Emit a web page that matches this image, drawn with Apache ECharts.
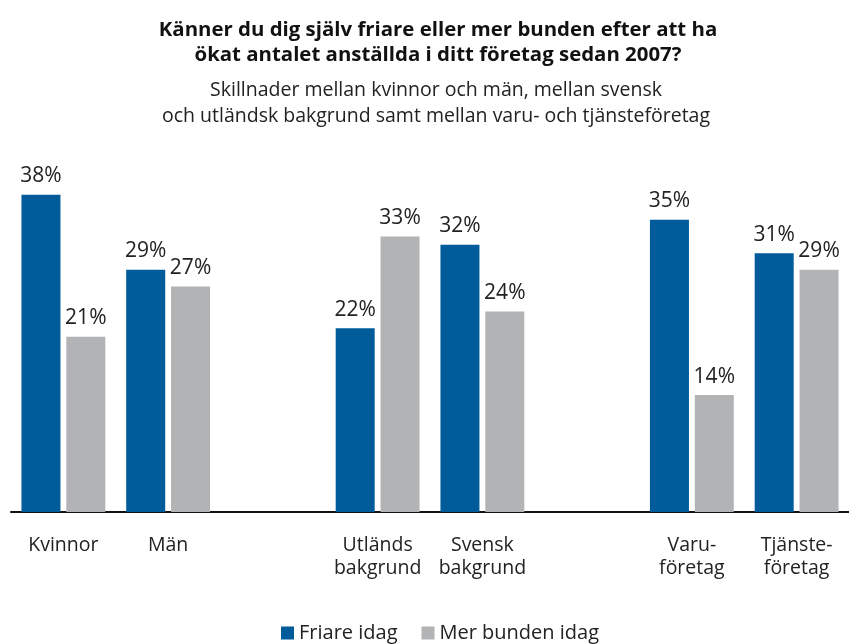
<!DOCTYPE html>
<html>
<head>
<meta charset="utf-8">
<script src="https://cdn.jsdelivr.net/npm/echarts@6/dist/echarts.min.js"></script>
<style>html,body{margin:0;padding:0;background:#fff;}#c{width:849px;height:644px;}</style>
</head>
<body>
<div id="c"></div>
<script>
const categories = ['Kvinnor', 'Män', '', 'Utländs\nbakgrund', 'Svensk\nbakgrund', '', 'Varu-\nföretag', 'Tjänste-\nföretag'];
const friare = [38, 29, null, 22, 32, null, 35, 31];
const bunden = [21, 27, null, 33, 24, null, 14, 29];
const seriesNames = ['Friare idag', 'Mer bunden idag'];
const titleLines = ['Känner du dig själv friare eller mer bunden efter att ha', 'ökat antalet anställda i ditt företag sedan 2007?'];
const subtitleLines = ['Skillnader mellan kvinnor och män, mellan svensk', 'och utländsk bakgrund samt mellan varu- och tjänsteföretag'];

const FONT = 'Open Sans';
const chart = echarts.init(document.getElementById('c'), null, {renderer: 'canvas'});
const labelCfg = {
  show: true, position: 'top', distance: 8,
  formatter: p => p.value + '%',
  fontFamily: FONT, fontSize: 21, color: '#222'
};
chart.setOption({
  animation: false,
  textStyle: {fontFamily: FONT},
  graphic: [
    {type: 'text', x: 438, y: 17, style: {
      text: titleLines.join('\n'), textAlign: 'center', textVerticalAlign: 'top',
      font: 'bold 20.4px "Open Sans"', lineHeight: 25.5, fill: '#111'}},
    {type: 'text', x: 436, y: 77, style: {
      text: subtitleLines.join('\n'), textAlign: 'center', textVerticalAlign: 'top',
      font: 'normal 19.5px "Open Sans"', lineHeight: 26.5, fill: '#222'}}
  ],
  legend: {
    data: seriesNames, left: 276, top: 618, itemWidth: 13, itemHeight: 13, itemGap: 24,
    icon: 'rect', textStyle: {fontFamily: FONT, fontSize: 20, color: '#222'}
  },
  grid: {left: 11, width: 842, top: 178, height: 334},
  xAxis: {
    type: 'category', data: categories,
    axisLine: {lineStyle: {color: '#111', width: 2}},
    axisTick: {show: false},
    axisLabel: {fontFamily: FONT, fontSize: 19.5, color: '#222', margin: 22, lineHeight: 23, interval: 0}
  },
  yAxis: {type: 'value', min: 0, max: 40, show: false, splitLine: {show: false}},
  series: [
    {name: seriesNames[0], type: 'bar', data: friare, barWidth: 39, barGap: '15%',
     itemStyle: {color: '#005b9a'}, label: labelCfg},
    {name: seriesNames[1], type: 'bar', data: bunden, barWidth: 39,
     itemStyle: {color: '#b2b3b5'}, label: labelCfg}
  ]
});
</script>
</body>
</html>
